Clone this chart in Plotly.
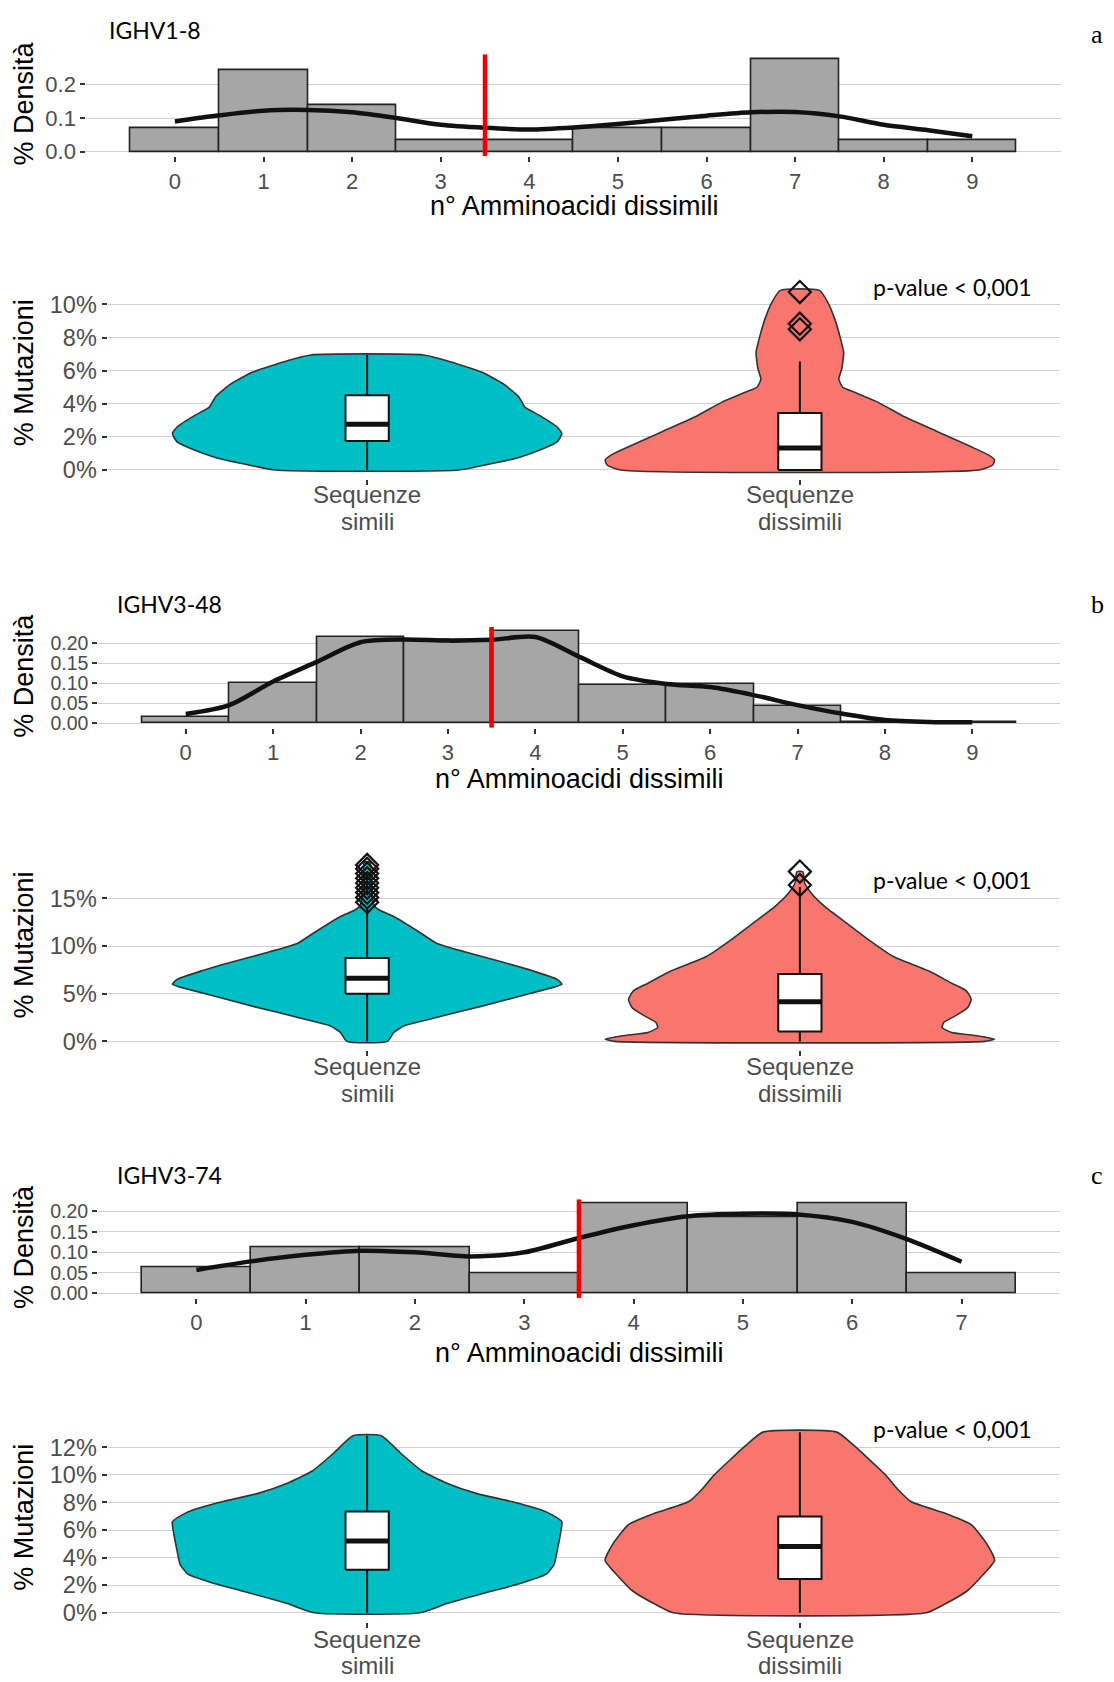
import plotly.graph_objects as go

W, H = 1114, 1682

# ---------------- data ----------------
genes = ["IGHV1-8", "IGHV3-48", "IGHV3-74"]
panel_letters = ["a", "b", "c"]
pvalue_text = "p-value < 0,001"
x_title = "n° Amminoacidi dissimili"
y_title_hist = "% Densità"
y_title_violin = "% Mutazioni"
categories = ["Sequenze<br>simili", "Sequenze<br>dissimili"]
cat_pos = [0, 1]
cutoff = 3.5

# histogram densities (bin centres = number of dissimilar amino acids)
a_bins = [0, 1, 2, 3, 4, 5, 6, 7, 8, 9]
a_dens = [0.069, 0.241, 0.138, 0.034, 0.034, 0.069, 0.069, 0.276, 0.034, 0.034]
b_bins = [0, 1, 2, 3, 4, 5, 6, 7, 8, 9]
b_dens = [0.016, 0.101, 0.216, 0.208, 0.229, 0.096, 0.098, 0.042, 0.002, 0.002]
c_bins = [0, 1, 2, 3, 4, 5, 6, 7]
c_dens = [0.063, 0.111, 0.111, 0.050, 0.218, 0.184, 0.218, 0.049]

# kernel density curves
a_kde_x = [0, 0.5, 1, 1.5, 2, 2.5, 3, 3.5, 4, 4.5, 5, 5.5, 6, 6.5, 7, 7.5, 8, 8.5, 9]
a_kde_y = [0.090, 0.108, 0.122, 0.124, 0.117, 0.100, 0.080, 0.071, 0.066, 0.072, 0.082,
           0.095, 0.107, 0.117, 0.118, 0.105, 0.080, 0.064, 0.046]
b_kde_x = [0, 0.5, 1, 1.5, 2, 2.5, 3, 3.5, 4, 4.5, 5, 5.5, 6, 6.5, 7, 7.5, 8, 8.5, 9]
b_kde_y = [0.023, 0.045, 0.104, 0.153, 0.202, 0.209, 0.206, 0.208, 0.215, 0.166, 0.117,
           0.098, 0.090, 0.070, 0.045, 0.024, 0.008, 0.003, 0.002]
c_kde_x = [0, 0.5, 1, 1.5, 2, 2.5, 3, 3.5, 4, 4.5, 5, 5.5, 6, 6.5, 7]
c_kde_y = [0.057, 0.078, 0.094, 0.104, 0.100, 0.090, 0.100, 0.135, 0.166, 0.188, 0.194,
           0.192, 0.174, 0.132, 0.077]

# violin outlines: levels (% mutations) and relative half-widths
a_sim_lvl = [0, 0.36, 0.76, 1.27, 1.7, 2.2, 2.6, 3.3, 3.8, 4.4, 5.2, 5.9, 6.6, 6.95]
a_sim_w = [0.47, 0.63, 0.78, 0.90, 0.976, 1.0, 0.976, 0.885, 0.81, 0.78, 0.70, 0.59, 0.41, 0.29]
a_dis_lvl = [0, 0.3, 0.6, 0.9, 1.4, 2.3, 3.2, 4.1, 4.7, 5.0, 5.5, 6.1, 7.1, 8.1, 9.1, 10.1, 10.85]
a_dis_w = [0.92, 0.99, 1.0, 0.97, 0.88, 0.71, 0.54, 0.40, 0.28, 0.22, 0.20, 0.215, 0.225, 0.205, 0.18, 0.145, 0.10]
b_sim_lvl = [0, 0.94, 1.63, 2.33, 3.7, 5.1, 6.0, 6.5, 7.4, 8.4, 9.4, 10.3, 11.5, 13.1, 13.8, 14.3, 15.5, 17.0, 18.8]
b_sim_w = [0.104, 0.137, 0.19, 0.32, 0.59, 0.85, 1.0, 0.976, 0.85, 0.68, 0.50, 0.356, 0.265, 0.137,
           0.06, 0.035, 0.025, 0.02, 0.015]
b_dis_lvl = [0, 0.24, 0.6, 0.94, 1.46, 2.0, 2.7, 3.5, 4.4, 5.3, 6.1, 7.4, 8.9, 10.7, 12.4, 14.1, 15.5, 16.6, 17.8]
b_dis_w = [0.95, 1.0, 0.91, 0.78, 0.73, 0.74, 0.80, 0.86, 0.88, 0.855, 0.78, 0.66, 0.48, 0.35,
           0.24, 0.13, 0.06, 0.025, 0.015]
c_sim_lvl = [0, 0.67, 1.38, 2.1, 2.8, 3.5, 4.5, 5.9, 6.6, 7.1, 7.5, 8.07, 8.66, 9.4, 10.3, 11.6, 12.84]
c_sim_w = [0.27, 0.41, 0.59, 0.78, 0.92, 0.96, 0.976, 0.995, 1.0, 0.95, 0.885, 0.74, 0.56, 0.41,
           0.28, 0.17, 0.073]
c_dis_lvl = [0, 0.67, 1.6, 2.6, 3.8, 5.0, 6.4, 7.2, 8.07, 9.0, 10.0, 11.2, 12.1, 13.1]
c_dis_w = [0.65, 0.75, 0.86, 0.93, 1.0, 0.96, 0.88, 0.75, 0.57, 0.50, 0.44, 0.35, 0.28, 0.19]

# box statistics [simili, dissimili]
a_lo, a_q1, a_med, a_q3, a_hi = [0, 0], [1.75, 0.0], [2.77, 1.33], [4.52, 3.44], [6.95, 6.55]
b_lo, b_q1, b_med, b_q3, b_hi = [0, 0], [5.0, 1.04], [6.63, 4.17], [8.75, 7.08], [14.0, 16.2]
c_lo, c_q1, c_med, c_q3, c_hi = [0, 0], [3.13, 2.46], [5.2, 4.8], [7.35, 6.99], [12.84, 13.1]

# outliers
a_out_x = [1, 1, 1]
a_out_y = [8.5, 8.84, 10.75]
b_out_x = [0, 0, 0, 0, 0, 0, 0, 0, 0, 1, 1]
b_out_y = [14.6, 15.1, 15.6, 16.1, 16.6, 17.1, 17.6, 18.1, 18.5, 16.4, 17.8]
c_out_x = []
c_out_y = []

# ---------------- styling ----------------
TEAL = "#00BFC4"
SALMON = "#F8766D"
GRID = "#d0d0d0"
TICKC = "#4d4d4d"
FONT = "Liberation Sans, Arial, sans-serif"
CAL = "Lato, Open Sans, sans-serif"
BOX_HALF = 0.05

fig = go.Figure()


def xd(l, r):
    return [l / W, r / W]


def yd(top, bottom):
    return [1 - bottom / H, 1 - top / H]


def add_hist(n, bins, dens, kx, ky, yrange):
    xa, ya = f"x{n}", f"y{n}"
    fig.add_trace(go.Bar(x=bins, y=dens, width=1, marker=dict(color="#a6a6a6", line=dict(color="#222222", width=1.6)),
                         xaxis=xa, yaxis=ya, showlegend=False))
    fig.add_trace(go.Scatter(x=kx, y=ky, mode="lines", line=dict(color="#111111", width=4.5, shape="spline", smoothing=0.8),
                             xaxis=xa, yaxis=ya, showlegend=False))
    fig.add_trace(go.Scatter(x=[cutoff, cutoff], y=yrange, mode="lines", line=dict(color="#ee0000", width=4.5),
                             xaxis=xa, yaxis=ya, showlegend=False, cliponaxis=False))


def add_violin(n, profiles, lo, q1, med, q3, hi, ox, oy):
    xa, ya = f"x{n}", f"y{n}"
    for c, (lvl, wid), col in zip(cat_pos, profiles, [TEAL, SALMON]):
        xs = [c + 0.45 * w for w in wid] + [c - 0.45 * w for w in reversed(wid)]
        ys = list(lvl) + list(reversed(lvl))
        xs.append(xs[0])
        ys.append(ys[0])
        fig.add_trace(go.Scatter(x=xs, y=ys, mode="lines", fill="toself", fillcolor=col,
                                 line=dict(color="#333333", width=1.6, shape="spline", smoothing=0.5),
                                 xaxis=xa, yaxis=ya, showlegend=False))
    # whiskers
    wx, wy = [], []
    for c, l, a, b, h in zip(cat_pos, lo, q1, q3, hi):
        wx += [c, c, None, c, c, None]
        wy += [l, a, None, b, h, None]
    fig.add_trace(go.Scatter(x=wx, y=wy, mode="lines", line=dict(color="#111111", width=2),
                             xaxis=xa, yaxis=ya, showlegend=False))
    # boxes
    for c, a, b in zip(cat_pos, q1, q3):
        fig.add_trace(go.Scatter(x=[c - BOX_HALF, c + BOX_HALF, c + BOX_HALF, c - BOX_HALF, c - BOX_HALF],
                                 y=[a, a, b, b, a], mode="lines", fill="toself", fillcolor="white",
                                 line=dict(color="#111111", width=2), xaxis=xa, yaxis=ya, showlegend=False))
    # medians
    mx, my = [], []
    for c, m in zip(cat_pos, med):
        mx += [c - BOX_HALF, c + BOX_HALF, None]
        my += [m, m, None]
    fig.add_trace(go.Scatter(x=mx, y=my, mode="lines", line=dict(color="#111111", width=5),
                             xaxis=xa, yaxis=ya, showlegend=False))
    if ox:
        fig.add_trace(go.Scatter(x=ox, y=oy, mode="markers",
                                 marker=dict(symbol="diamond-open", size=17, color="#111111", line=dict(width=2.2)),
                                 xaxis=xa, yaxis=ya, showlegend=False, cliponaxis=False))


# ranges
ha_rng = [-0.0138, 0.2898]
hb_rng = [-0.0114, 0.2400]
hc_rng = [-0.0109, 0.2289]
va_rng = [-0.545, 11.445]
vb_rng = [-0.94, 19.74]
vc_rng = [-0.655, 13.755]

add_hist(1, a_bins, a_dens, a_kde_x, a_kde_y, ha_rng)
add_violin(2, [(a_sim_lvl, a_sim_w), (a_dis_lvl, a_dis_w)], a_lo, a_q1, a_med, a_q3, a_hi, a_out_x, a_out_y)
add_hist(3, b_bins, b_dens, b_kde_x, b_kde_y, hb_rng)
add_violin(4, [(b_sim_lvl, b_sim_w), (b_dis_lvl, b_dis_w)], b_lo, b_q1, b_med, b_q3, b_hi, b_out_x, b_out_y)
add_hist(5, c_bins, c_dens, c_kde_x, c_kde_y, hc_rng)
add_violin(6, [(c_sim_lvl, c_sim_w), (c_dis_lvl, c_dis_w)], c_lo, c_q1, c_med, c_q3, c_hi, c_out_x, c_out_y)


def tick_common(size):
    return dict(type="linear", ticks="outside", ticklen=5, tickwidth=1.6, tickcolor="#333333",
                tickfont=dict(family=FONT, size=size, color=TICKC), showline=False, zeroline=False)


layout = dict(width=W, height=H, margin=dict(l=0, r=0, t=0, b=0), paper_bgcolor="white",
              plot_bgcolor="white", showlegend=False, bargap=0)

# histogram axes
hist_specs = [
    (1, xd(86.3, 1060.9), yd(54.4, 157.1), [-1, 10], ha_rng, a_bins, [0, 0.1, 0.2], ".1f", 22),
    (3, xd(98.3, 1059.7), yd(630.0, 731.2), [-1, 10], hb_rng, b_bins, [0, 0.05, 0.1, 0.15, 0.2], ".2f", 19.5),
    (5, xd(98.0, 1059.9), yd(1205.1, 1304.1), [-0.9, 7.9], hc_rng, c_bins, [0, 0.05, 0.1, 0.15, 0.2], ".2f", 19.5),
]
for n, xdom, ydom, xr, yr, xt, yt, fmt, ysz in hist_specs:
    layout[f"xaxis{n}"] = dict(domain=xdom, range=xr, anchor=f"y{n}", tickvals=xt, showgrid=False, **tick_common(22))
    layout[f"yaxis{n}"] = dict(domain=ydom, range=yr, anchor=f"x{n}", tickvals=yt, tickformat=fmt,
                               showgrid=True, gridcolor=GRID, gridwidth=1.3, **tick_common(ysz))

viol_specs = [
    (2, yd(281.9, 481.3), va_rng, [0, 2, 4, 6, 8, 10]),
    (4, yd(857.2, 1055.4), vb_rng, [0, 5, 10, 15]),
    (6, yd(1429.9, 1629.6), vc_rng, [0, 2, 4, 6, 8, 10, 12]),
]
for n, ydom, yr, yt in viol_specs:
    layout[f"xaxis{n}"] = dict(domain=xd(107.5, 1059.5), range=[-0.6, 1.6], anchor=f"y{n}",
                               tickvals=cat_pos, showticklabels=False, showgrid=False, **tick_common(23))
    layout[f"yaxis{n}"] = dict(domain=ydom, range=yr, anchor=f"x{n}", tickvals=yt,
                               ticktext=[f"{v}%" for v in yt],
                               showgrid=True, gridcolor=GRID, gridwidth=1.3, **tick_common(23.5))

fig.update_layout(**layout)


def ann(text, x, y, size, family, color="black", xanchor="center", angle=0, xref="paper"):
    fig.add_annotation(text=text, x=(x / W if xref == "paper" else x), y=1 - y / H, xref=xref, yref="paper",
                       showarrow=False, xanchor=xanchor, yanchor="middle", textangle=angle,
                       font=dict(size=size, family=family, color=color))


gene_pos = [(107, 30), (115, 607), (115, 1181)]
letter_y = [35, 607, 1181]
pval_y = [288, 884, 1436]
hist_title_y = [207, 783, 1359]
hist_title_x = [574, 579, 579]
hist_ytitle_y = [104, 679, 1253]
viol_ytitle_y = [375, 950, 1525]
cat_label_y = [(497, 524), (1072, 1099), (1647, 1673)]

for i in range(3):
    ann(genes[i], gene_pos[i][0], gene_pos[i][1], 23, CAL, xanchor="left")
    ann(panel_letters[i], 1097, letter_y[i], 26, "Liberation Serif, Times New Roman, serif")
    ann(pvalue_text, 871, pval_y[i], 23, CAL, xanchor="left")
    ann(x_title, hist_title_x[i], hist_title_y[i], 27, FONT)
    ann(y_title_hist, 24, hist_ytitle_y[i], 27, FONT, angle=-90)
    ann(y_title_violin, 24, viol_ytitle_y[i], 27, FONT, angle=-90)
    for c, lab in zip(cat_pos, categories):
        for line, yy in zip(lab.split("<br>"), cat_label_y[i]):
            ann(line, c, yy, 24, FONT, color=TICKC, xref=f"x{2 * i + 2}")

fig.write_html("out.html")
